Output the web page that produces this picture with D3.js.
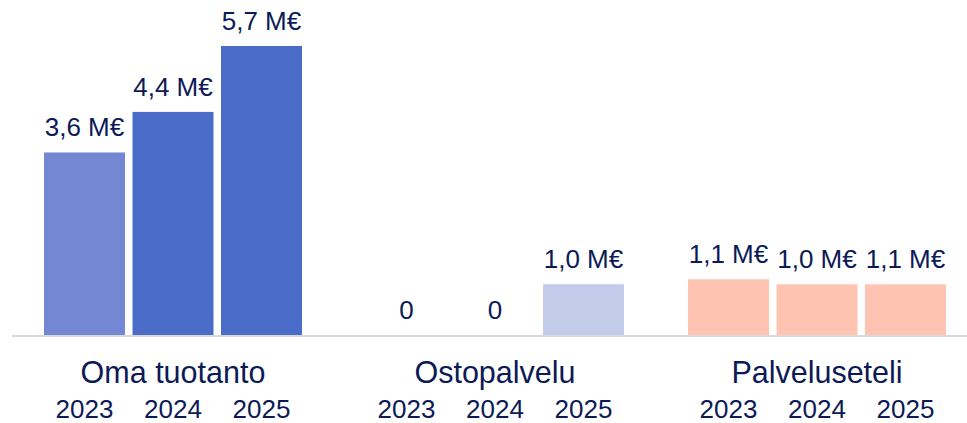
<!DOCTYPE html>
<meta charset="utf-8">
<style>
body { margin: 0; background: #fff; }
text { font-family: "Liberation Sans", Arial, sans-serif; fill: #0c1a57; }
</style>
<body>
<script src="https://d3js.org/d3.v7.min.js"></script>
<script>
// data (M€)
var categories = ["Oma tuotanto", "Ostopalvelu", "Palveluseteli"];
var years = ["2023", "2024", "2025"];
var omaTuotanto = [3.6, 4.4, 5.7];
var ostopalvelu = [0, 0, 1.0];
var palveluseteli = [1.1, 1.0, 1.0];
var valueLabels = [
  ["3,6 M€", "4,4 M€", "5,7 M€"],
  ["0", "0", "1,0 M€"],
  ["1,1 M€", "1,0 M€", "1,1 M€"]
];
var barColors = [
  ["#7387d3", "#4a6bc8", "#4a6bc8"],
  ["#c3cbea", "#c3cbea", "#c3cbea"],
  ["#fec4b1", "#fec4b1", "#fec4b1"]
];

var series = [omaTuotanto, ostopalvelu, palveluseteli];
var data = [];
categories.forEach(function(c, i) {
  years.forEach(function(yr, j) {
    data.push({cat: c, year: yr, value: series[i][j], label: valueLabels[i][j], color: barColors[i][j]});
  });
});

var width = 967, height = 423, baseY = 335;

var svg = d3.select("body").append("svg")
    .attr("width", width)
    .attr("height", height);

// group scale and year scale inside each group
var x0 = d3.scaleBand().domain(categories).range([40.25, 949.75]).paddingInner(0.1755).paddingOuter(0);
var x1 = d3.scaleBand().domain(years).range([0, x0.bandwidth()]).paddingInner(0.085).paddingOuter(0.0425);
var y = d3.scaleLinear().domain([0, 5.7]).range([baseY, 46]);

// bars
svg.selectAll("rect.bar")
    .data(data.filter(function(d) { return d.value > 0; }))
  .enter().append("rect")
    .attr("class", "bar")
    .attr("x", function(d) { return x0(d.cat) + x1(d.year); })
    .attr("y", function(d) { return y(d.value); })
    .attr("width", x1.bandwidth())
    .attr("height", function(d) { return baseY - y(d.value); })
    .attr("fill", function(d) { return d.color; });

// baseline
svg.append("line")
    .attr("x1", 12).attr("x2", width)
    .attr("y1", baseY + 1).attr("y2", baseY + 1)
    .attr("stroke", "#d9d9d9")
    .attr("stroke-width", 2);

// value labels
svg.selectAll("text.val")
    .data(data)
  .enter().append("text")
    .attr("class", "val")
    .attr("x", function(d) { return x0(d.cat) + x1(d.year) + x1.bandwidth() / 2; })
    .attr("y", function(d) { return y(d.value) - 16; })
    .attr("text-anchor", "middle")
    .style("font-size", "26px")
    .text(function(d) { return d.label; });

// category labels
svg.selectAll("text.cat")
    .data(categories)
  .enter().append("text")
    .attr("class", "cat")
    .attr("x", function(d) { return x0(d) + x0.bandwidth() / 2; })
    .attr("y", 383)
    .attr("text-anchor", "middle")
    .style("font-size", "30.5px")
    .text(function(d) { return d; });

// year labels
svg.selectAll("text.yr")
    .data(data)
  .enter().append("text")
    .attr("class", "yr")
    .attr("x", function(d) { return x0(d.cat) + x1(d.year) + x1.bandwidth() / 2; })
    .attr("y", 418)
    .attr("text-anchor", "middle")
    .style("font-size", "26px")
    .text(function(d) { return d.year; });
</script>
</body>
